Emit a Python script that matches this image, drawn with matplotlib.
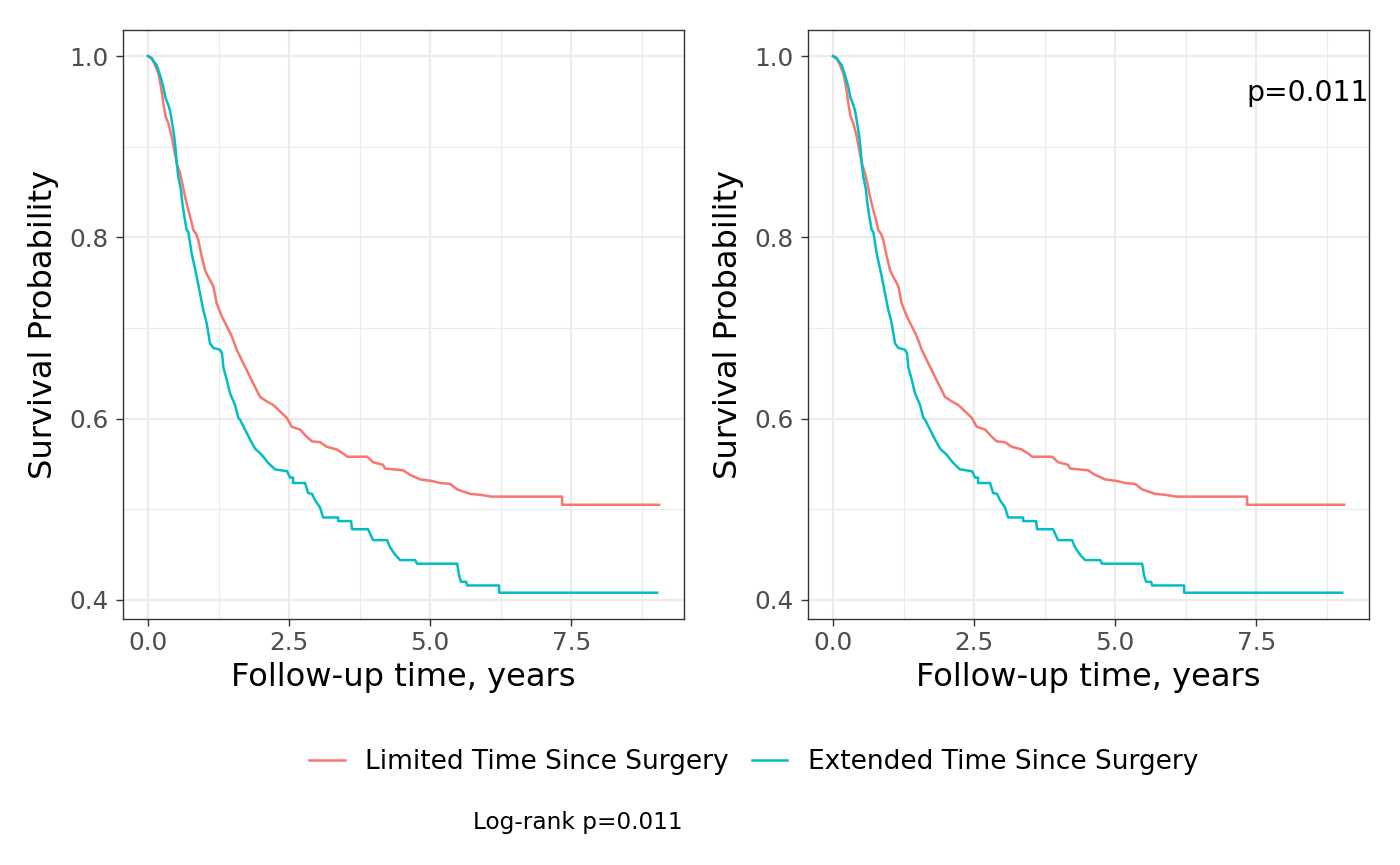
import matplotlib
matplotlib.use("Agg")
import matplotlib.pyplot as plt
from matplotlib.lines import Line2D

plt.rcParams['font.family'] = ['DejaVu Sans']

# ---- data: curve vertices (time in years, survival probability) ----
limited_time = [0.000, 0.066, 0.124, 0.183, 0.230, 0.271, 0.314, 0.360, 0.420, 0.466,
                0.509, 0.567, 0.608, 0.656, 0.715, 0.775, 0.803, 0.851, 0.892, 0.952,
                1.011, 1.046, 1.099, 1.158, 1.218, 1.307, 1.395, 1.484, 1.573, 1.690,
                1.809, 1.897, 1.986, 2.105, 2.222, 2.340, 2.459, 2.548, 2.695, 2.814,
                2.902, 3.050, 3.168, 3.346, 3.493, 3.528, 3.883, 3.989, 4.167, 4.202,
                4.521, 4.645, 4.823, 5.053, 5.177, 5.355, 5.479, 5.709, 5.887, 6.082,
                7.340, 7.340, 9.060]
limited_surv = [1.000, 0.998, 0.990, 0.981, 0.966, 0.948, 0.933, 0.926, 0.911, 0.896,
                0.882, 0.871, 0.860, 0.845, 0.830, 0.816, 0.808, 0.804, 0.797, 0.779,
                0.764, 0.759, 0.753, 0.746, 0.727, 0.713, 0.702, 0.691, 0.676, 0.661,
                0.646, 0.635, 0.624, 0.619, 0.615, 0.608, 0.601, 0.591, 0.588, 0.580,
                0.575, 0.574, 0.569, 0.566, 0.560, 0.558, 0.558, 0.552, 0.549, 0.545,
                0.543, 0.538, 0.533, 0.531, 0.529, 0.528, 0.522, 0.517, 0.516, 0.514,
                0.514, 0.505, 0.505]

extended_time = [0.000, 0.066, 0.154, 0.213, 0.271, 0.310, 0.360, 0.390, 0.420, 0.466,
                 0.491, 0.509, 0.537, 0.585, 0.608, 0.644, 0.686, 0.715, 0.775, 0.863,
                 0.922, 0.980, 1.041, 1.099, 1.158, 1.277, 1.312, 1.335, 1.395, 1.454,
                 1.543, 1.601, 1.631, 1.720, 1.809, 1.897, 2.016, 2.133, 2.252, 2.465,
                 2.518, 2.571, 2.571, 2.784, 2.837, 2.908, 2.961, 3.050, 3.103, 3.369,
                 3.369, 3.599, 3.617, 3.901, 3.989, 4.238, 4.291, 4.379, 4.468, 4.734,
                 4.770, 5.479, 5.514, 5.550, 5.638, 5.656, 6.223, 6.223, 9.025]
extended_surv = [1.000, 0.997, 0.990, 0.979, 0.966, 0.954, 0.946, 0.940, 0.929, 0.911,
                 0.896, 0.882, 0.867, 0.852, 0.838, 0.823, 0.808, 0.806, 0.782, 0.757,
                 0.738, 0.720, 0.705, 0.683, 0.678, 0.676, 0.672, 0.657, 0.643, 0.628,
                 0.615, 0.601, 0.599, 0.588, 0.577, 0.567, 0.560, 0.551, 0.544, 0.542,
                 0.535, 0.535, 0.529, 0.529, 0.518, 0.517, 0.510, 0.502, 0.491, 0.491,
                 0.487, 0.487, 0.478, 0.478, 0.466, 0.466, 0.458, 0.450, 0.444, 0.444,
                 0.440, 0.440, 0.427, 0.420, 0.420, 0.416, 0.416, 0.408, 0.408]

group_labels = ["Limited Time Since Surgery", "Extended Time Since Surgery"]
group_colors = ["#F8766D", "#00BFC4"]
x_ticks = [0.0, 2.5, 5.0, 7.5]
x_minor = [1.25, 3.75, 6.25, 8.75]
y_ticks = [0.4, 0.6, 0.8, 1.0]
y_minor = [0.5, 0.7, 0.9]
p_text = "p=0.011"
caption = "Log-rank p=0.011"

fig = plt.figure(figsize=(14, 8.65), dpi=100)
W, H = 1400, 865
panels = [(123, 30, 684, 619), (808, 30, 1369, 619)]

def style_axes(ax):
    ax.set_xlim(-0.443, 9.50)
    ax.set_ylim(0.379, 1.0287)
    ax.set_facecolor("white")
    for v in x_minor:
        ax.axvline(v, color="#EBEBEB", lw=0.8, zorder=0)
    for v in y_minor:
        ax.axhline(v, color="#EBEBEB", lw=0.8, zorder=0)
    for v in x_ticks:
        ax.axvline(v, color="#EBEBEB", lw=1.6, zorder=0)
    for v in y_ticks:
        ax.axhline(v, color="#EBEBEB", lw=1.6, zorder=0)
    ax.set_xticks(x_ticks)
    ax.set_xticklabels([f"{v:.1f}" for v in x_ticks])
    ax.set_yticks(y_ticks)
    ax.set_yticklabels([f"{v:.1f}" for v in y_ticks])
    ax.tick_params(axis="both", colors="#333333", labelcolor="#4D4D4D",
                   labelsize=17.8, length=5, width=1.0)
    ax.tick_params(axis="y", pad=5.5)
    ax.tick_params(axis="x", pad=3.5)
    for s in ax.spines.values():
        s.set_color("#333333")
        s.set_linewidth(1.0)
    ax.set_xlabel("Follow-up time, years", fontsize=23.1, color="black", labelpad=5.5)
    ax.set_ylabel("Survival Probability", fontsize=23.1, color="black", labelpad=7.5)

axes = []
for (x0, y0, x1, y1) in panels:
    ax = fig.add_axes([x0 / W, 1 - y1 / H, (x1 - x0) / W, (y1 - y0) / H])
    style_axes(ax)
    ax.plot(limited_time, limited_surv, color=group_colors[0], lw=1.8, zorder=3)
    ax.plot(extended_time, extended_surv, color=group_colors[1], lw=1.8, zorder=3)
    axes.append(ax)

axes[1].text(9.50, 0.959, p_text, ha="right", va="center", fontsize=20.3, color="black",
             clip_on=False)

handles = [Line2D([], [], color=c, lw=1.8) for c in group_colors]
fig.legend(handles, group_labels, loc="center", bbox_to_anchor=(753.5 / W, 1 - 762 / H),
           ncol=2, frameon=False, fontsize=19, handlelength=1.36, handletextpad=0.76,
           columnspacing=0.87, borderpad=0, borderaxespad=0)

fig.text(578 / W, 1 - 823 / H, caption, ha="center", va="center", fontsize=16.7, color="black")

fig.savefig("out.png", dpi=100, facecolor="white")
